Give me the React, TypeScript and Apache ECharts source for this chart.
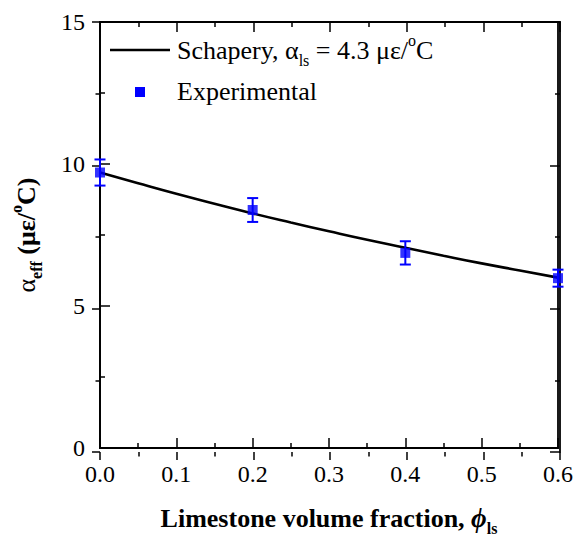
import React, { useEffect, useRef } from "react";
import * as echarts from "echarts";

// Schapery model curve
const phiCurve = [0, 0.05, 0.1, 0.15, 0.2, 0.25, 0.3, 0.35, 0.4, 0.45, 0.5, 0.55, 0.6];
const alphaCurve = [9.7, 9.32, 8.95, 8.6, 8.26, 7.94, 7.63, 7.33, 7.05, 6.77, 6.5, 6.25, 6.0];

// Experimental points with error bars
const phiExp = [0, 0.2, 0.4, 0.6];
const alphaExp = [9.7, 8.38, 6.87, 5.98];
const errExp = [0.46, 0.42, 0.41, 0.3];

const xTicks = ["0.0", "0.1", "0.2", "0.3", "0.4", "0.5", "0.6"];
const yTicks = ["0", "5", "10", "15"];
const seriesNames = ["Schapery", "Experimental"];

const FONT = "'Liberation Serif', 'Times New Roman', serif";
const BLUE = "#0000ff";

const lineOn = () => ({ show: true, onZero: false, lineStyle: { color: "#000", width: 1.8 } });
const lineOff = () => ({ show: false, onZero: false });
const tickIn = () => ({ show: true, inside: true, length: 10, lineStyle: { color: "#000", width: 1.5 } });
const tickOut = () => ({ show: true, inside: false, length: 8, lineStyle: { color: "#000", width: 1.5 } });
const minorIn = () => ({ show: true, splitNumber: 2, length: 5, lineStyle: { color: "#000", width: 1.5 } });
const minorOut = () => ({ show: true, splitNumber: 2, length: 4.5, lineStyle: { color: "#000", width: 1.5 } });
const xAx = (extra: any) => ({ type: "value", min: 0, max: 0.6, interval: 0.1, splitLine: { show: false }, ...extra });
const yAx = (extra: any) => ({ type: "value", min: 0, max: 15, interval: 5, splitLine: { show: false }, ...extra });

export default function App() {
  const ref = useRef<HTMLDivElement>(null);
  useEffect(() => {
    if (!ref.current) return;
    const chart = echarts.init(ref.current, null, { renderer: "svg" });
    const rect = () => ({ left: 100, right: 16, top: 22, bottom: 89 });
    const mainRich = {
      b: { fontFamily: FONT, fontSize: 26, fontWeight: "bold", color: "#000", lineHeight: 36 },
      bi: { fontFamily: FONT, fontSize: 27, fontWeight: "bold", fontStyle: "italic", color: "#000", lineHeight: 36 },
      a: { fontFamily: FONT, fontSize: 26, color: "#000", lineHeight: 36 },
      sub: { fontFamily: FONT, fontSize: 16, fontWeight: "bold", color: "#000", lineHeight: 16, verticalAlign: "bottom" },
      sup: { fontFamily: FONT, fontSize: 16, fontWeight: "bold", color: "#000", lineHeight: 16, verticalAlign: "top" },
    };
    const legRich = {
      t: { fontFamily: FONT, fontSize: 26, color: "#000", lineHeight: 36 },
      sub: { fontFamily: FONT, fontSize: 16, color: "#000", lineHeight: 16, verticalAlign: "bottom" },
      sup: { fontFamily: FONT, fontSize: 16, color: "#000", lineHeight: 16, verticalAlign: "top" },
    };
    const tickRich = { n: { fontFamily: FONT, fontSize: 24, color: "#000", lineHeight: 26 } };
    const errData = phiExp.map((x, i) => [x, alphaExp[i], errExp[i]]);
    chart.setOption({
      animation: false,
      backgroundColor: "#fff",
      textStyle: { fontFamily: FONT },
      grid: [
        { ...rect(), show: true, borderColor: "#000", borderWidth: 1.8, backgroundColor: "transparent" },
        rect(),
        rect(),
      ],
      xAxis: [
        xAx({
          gridIndex: 0,
          position: "bottom",
          axisLine: lineOn(),
          axisTick: tickIn(),
          minorTick: minorIn(),
          axisLabel: {
            fontFamily: FONT,
            fontSize: 24,
            color: "#000",
            margin: 13,
            rich: tickRich,
            formatter: (v: number) => "{n|" + (xTicks[Math.round(v * 10)] ?? "") + "}",
          },
          name: "{b|Limestone volume fraction, }{bi|ϕ}{sub|ls}",
          nameLocation: "middle",
          nameGap: 52,
          nameTextStyle: { rich: mainRich },
        }),
        xAx({
          gridIndex: 1,
          position: "top",
          axisLine: lineOn(),
          axisTick: tickIn(),
          minorTick: minorIn(),
          axisLabel: { show: false },
        }),
        xAx({
          gridIndex: 2,
          position: "bottom",
          axisLine: lineOff(),
          axisTick: tickOut(),
          minorTick: minorOut(),
          axisLabel: { show: false },
        }),
      ],
      yAxis: [
        yAx({
          gridIndex: 0,
          position: "left",
          axisLine: lineOn(),
          axisTick: tickIn(),
          minorTick: minorIn(),
          axisLabel: {
            fontFamily: FONT,
            fontSize: 24,
            color: "#000",
            margin: 15,
            rich: tickRich,
            formatter: (v: number) => "{n|" + (yTicks[Math.round(v / 5)] ?? "") + "}",
          },
          name: "{a|α}{sub|eff}{b| (με/}{sup|o}{b|C)}",
          nameLocation: "middle",
          nameRotate: 90,
          nameGap: 56,
          nameTextStyle: { rich: mainRich },
        }),
        yAx({
          gridIndex: 1,
          position: "right",
          axisLine: lineOn(),
          axisTick: tickIn(),
          minorTick: minorIn(),
          axisLabel: { show: false },
        }),
        yAx({
          gridIndex: 2,
          position: "left",
          axisLine: lineOff(),
          axisTick: tickOut(),
          minorTick: minorOut(),
          axisLabel: { show: false },
        }),
      ],
      series: [
        {
          name: seriesNames[0],
          type: "line",
          xAxisIndex: 0,
          yAxisIndex: 0,
          data: phiCurve.map((x, i) => [x, alphaCurve[i]]),
          smooth: true,
          showSymbol: false,
          lineStyle: { color: "#000", width: 2.6 },
          z: 3,
        },
        {
          name: seriesNames[1] + " error",
          type: "custom",
          xAxisIndex: 0,
          yAxisIndex: 0,
          data: errData,
          clip: false,
          z: 4,
          renderItem: (params: any, api: any) => {
            const x = api.value(0);
            const y = api.value(1);
            const e = api.value(2);
            const top = api.coord([x, y + e]);
            const bot = api.coord([x, y - e]);
            const hw = 5.5;
            const style = { stroke: BLUE, lineWidth: 2 };
            return {
              type: "group",
              children: [
                { type: "line", shape: { x1: top[0], y1: top[1], x2: bot[0], y2: bot[1] }, style },
                { type: "line", shape: { x1: top[0] - hw, y1: top[1], x2: top[0] + hw, y2: top[1] }, style },
                { type: "line", shape: { x1: bot[0] - hw, y1: bot[1], x2: bot[0] + hw, y2: bot[1] }, style },
              ],
            };
          },
        },
        {
          name: seriesNames[1],
          type: "scatter",
          xAxisIndex: 0,
          yAxisIndex: 0,
          data: phiExp.map((x, i) => [x, alphaExp[i]]),
          symbol: "rect",
          symbolSize: 10,
          itemStyle: { color: BLUE },
          clip: false,
          z: 5,
        },
      ],
      graphic: [
        { type: "line", shape: { x1: 110, y1: 50, x2: 170, y2: 50 }, style: { stroke: "#000", lineWidth: 2.6 } },
        {
          type: "text",
          x: 177,
          y: 50,
          style: {
            text: "{t|Schapery, α}{sub|ls}{t| = 4.3 με/}{sup|o}{t|C}",
            rich: legRich,
            verticalAlign: "middle",
            align: "left",
          },
        },
        { type: "rect", shape: { x: 135, y: 87, width: 10, height: 10 }, style: { fill: BLUE } },
        {
          type: "text",
          x: 177,
          y: 91,
          style: { text: "{t|Experimental}", rich: legRich, verticalAlign: "middle", align: "left" },
        },
      ],
    });
    return () => chart.dispose();
  }, []);
  return <div ref={ref} style={{ width: 576, height: 541, position: "absolute", left: 0, top: 0 }} />;
}
